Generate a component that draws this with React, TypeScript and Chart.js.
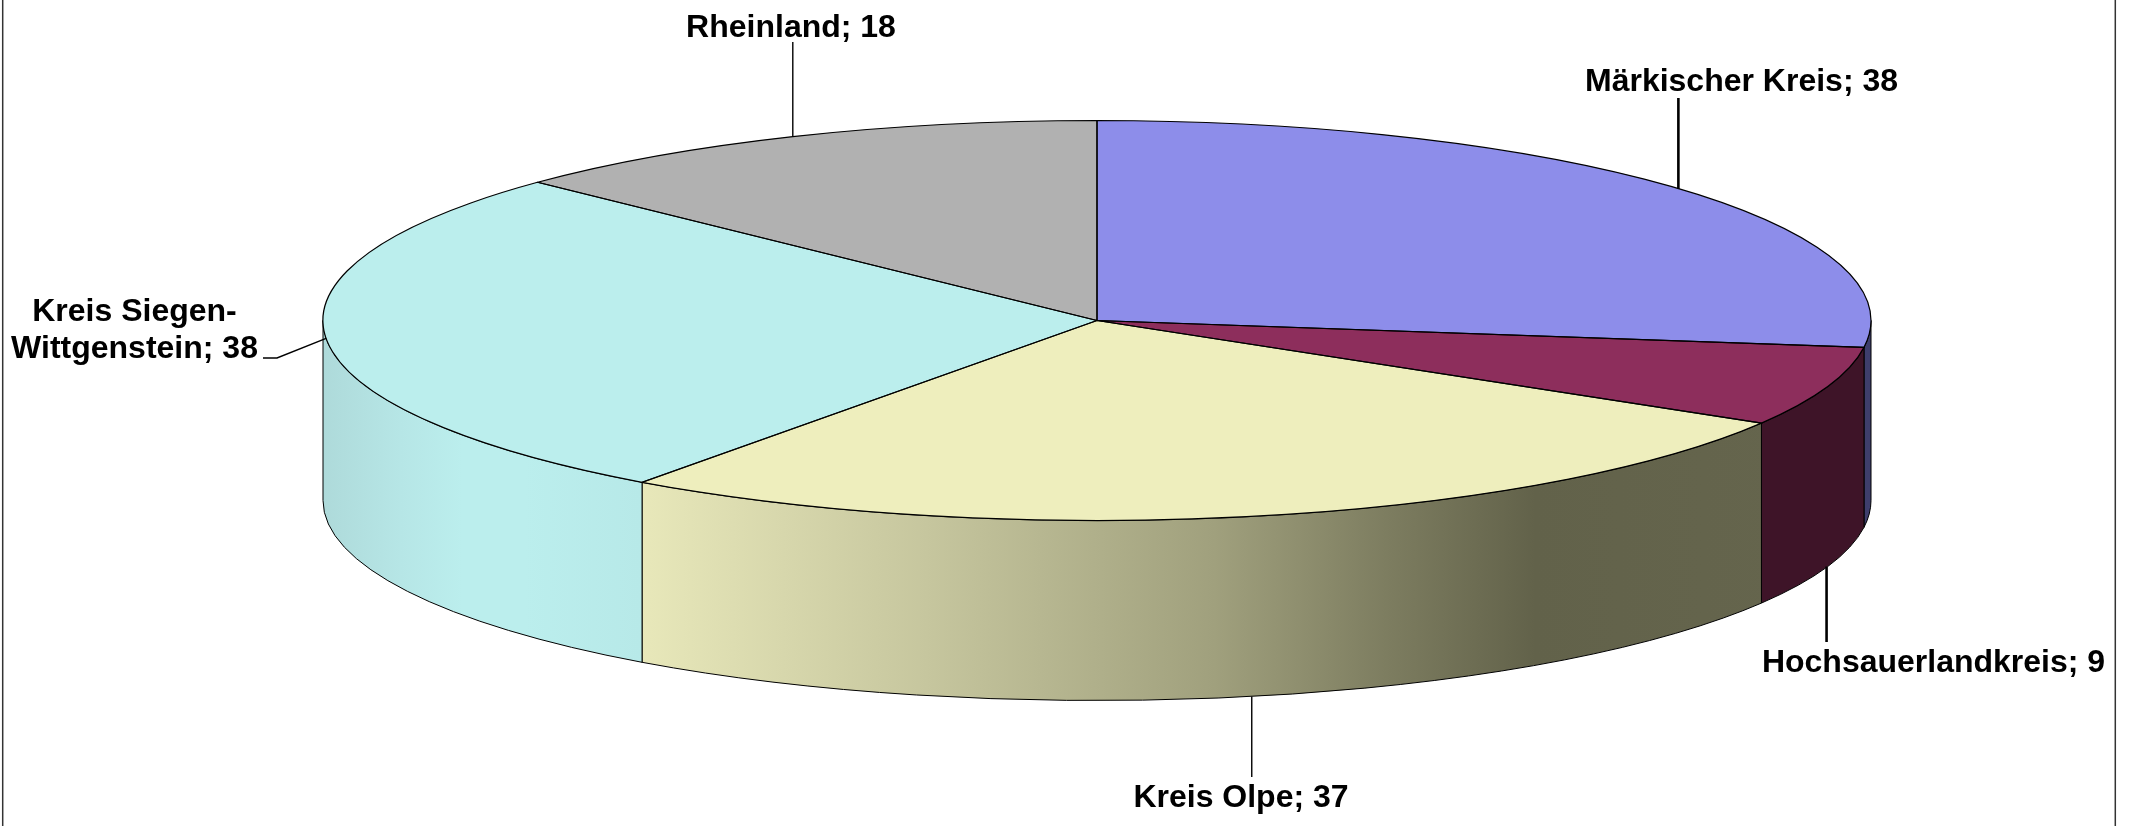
import React, { useEffect, useRef } from "react";
import { Chart, registerables } from "chart.js";

Chart.register(...registerables);

const categories = ["Märkischer Kreis", "Hochsauerlandkreis", "Kreis Olpe", "Kreis Siegen-Wittgenstein", "Rheinland"];
const seriesValues = [38, 9, 37, 38, 18];
const topColors = ["#8d8dea", "#8d2e5c", "#eeeebd", "#bbeeed", "#b1b1b1"];
const wallStops: [number, string][][] = [
  [[0, "#3e3e6c"], [1, "#3e3e6c"]],
  [[0, "#3e1428"], [1, "#3e1428"]],
  [[0.205, "#e8e8ba"], [0.39, "#c6c69e"], [0.576, "#a0a07d"], [0.687, "#7d7d60"], [0.783, "#62624a"], [1, "#66664e"]],
  [[0, "#aedada"], [0.05, "#b6e6e6"], [0.09, "#bbeeed"], [0.13, "#bbeeed"], [0.205, "#b7e9e8"], [1, "#b7e9e8"]],
  [[0, "#777777"], [1, "#777777"]],
];
const labelLines = [["Märkischer Kreis; 38"], ["Hochsauerlandkreis; 9"], ["Kreis Olpe; 37"], ["Kreis Siegen-", "Wittgenstein; 38"], ["Rheinland; 18"]];

const RX = 774;
const RY = 200;
const DEPTH = 180;
const FONT = "bold 32px 'Liberation Sans'";

const labelPos = [
  { x: 1741.5, y: [82] },
  { x: 1933.5, y: [663] },
  { x: 1241, y: [798] },
  { x: 134.5, y: [312, 349] },
  { x: 791, y: [28] },
];
const leaderEnds: { dx: number; pts: [number | null, number][]; w: number; wall: boolean }[] = [
  { dx: -1.5, pts: [[null, 98]], w: 2.6, wall: false },
  { dx: -1, pts: [[null, 642]], w: 2.6, wall: true },
  { dx: -0.5, pts: [[null, 777]], w: 1.4, wall: true },
  { dx: 0, pts: [[277, 358], [263, 358]], w: 1.4, wall: false },
  { dx: 0, pts: [[null, 42]], w: 1.4, wall: false },
];

const pieScene = {
  id: "pieScene",
  beforeDatasetsDraw(chart: any) {
    const ctx = chart.ctx;
    const arcs = chart.getDatasetMeta(0).data;
    const { x: cx, y: cy } = arcs[0];
    const k = RY / RX;
    const grad = (stops: [number, string][]) => {
      const g = ctx.createLinearGradient(cx - RX, 0, cx + RX, 0);
      stops.forEach(([o, c]) => g.addColorStop(o, c));
      return g;
    };
    // walls on the near side, taken from each arc's own angles
    arcs.forEach((arc: any, i: number) => {
      const a0 = Math.max(arc.startAngle, 0);
      const a1 = Math.min(arc.endAngle, Math.PI);
      if (a1 <= a0) return;
      ctx.save();
      ctx.beginPath();
      ctx.ellipse(cx, cy, RX, RY, 0, a0, a1);
      ctx.ellipse(cx, cy + DEPTH, RX, RY, 0, a1, a0, true);
      ctx.closePath();
      ctx.fillStyle = grad(wallStops[i]);
      ctx.fill();
      ctx.strokeStyle = "#000";
      ctx.lineWidth = 1;
      ctx.stroke();
      ctx.restore();
    });
    // the library draws the top face in a squashed space
    ctx.save();
    ctx.translate(cx, cy);
    ctx.scale(1, k);
    ctx.translate(-cx, -cy);
  },
  afterDatasetsDraw(chart: any) {
    const ctx = chart.ctx;
    ctx.restore();
    const arcs = chart.getDatasetMeta(0).data;
    const { x: cx, y: cy } = arcs[0];

    ctx.save();
    ctx.strokeStyle = "#000";
    ctx.lineWidth = 1.2;
    arcs.forEach((arc: any) => {
      ctx.beginPath();
      ctx.moveTo(cx, cy);
      ctx.ellipse(cx, cy, RX, RY, 0, arc.startAngle, arc.endAngle);
      ctx.closePath();
      ctx.stroke();
    });

    // frame
    ctx.strokeStyle = "#333";
    ctx.lineWidth = 1.5;
    [2.7, 2115.3].forEach((x) => {
      ctx.beginPath();
      ctx.moveTo(x, 0);
      ctx.lineTo(x, 826);
      ctx.stroke();
    });

    // leaders and labels
    ctx.strokeStyle = "#000";
    ctx.fillStyle = "#000";
    ctx.font = FONT;
    ctx.textAlign = "center";
    ctx.textBaseline = "middle";
    arcs.forEach((arc: any, i: number) => {
      const mid = (arc.startAngle + arc.endAngle) / 2;
      const leader = leaderEnds[i];
      const ax = cx + RX * Math.cos(mid) + leader.dx;
      const ay = cy + RY * Math.sin(mid) + (leader.wall ? DEPTH : 0);
      ctx.lineWidth = leader.w;
      ctx.beginPath();
      ctx.moveTo(ax, ay);
      leader.pts.forEach(([px, py]) => ctx.lineTo(px === null ? ax : px, py));
      ctx.stroke();
      labelLines[i].forEach((t, j) => ctx.fillText(t, labelPos[i].x, labelPos[i].y[j]));
    });
    ctx.restore();
  },
};

export default function App() {
  const ref = useRef<HTMLCanvasElement>(null);
  useEffect(() => {
    const chart = new Chart(ref.current!, {
      type: "pie",
      data: {
        labels: categories,
        datasets: [
          {
            data: seriesValues,
            backgroundColor: topColors,
            borderWidth: 0,
            clip: false,
          } as any,
        ],
      },
      options: {
        responsive: false,
        animation: false,
        radius: RX,
        layout: { padding: { left: 60, bottom: 185 } },
        plugins: { legend: { display: false }, tooltip: { enabled: false } },
      } as any,
      plugins: [pieScene],
    });
    return () => chart.destroy();
  }, []);
  return (
    <canvas
      ref={ref}
      width={2134}
      height={826}
      style={{ position: "absolute", left: 0, top: 0, width: 2134, height: 826, display: "block" }}
    />
  );
}
